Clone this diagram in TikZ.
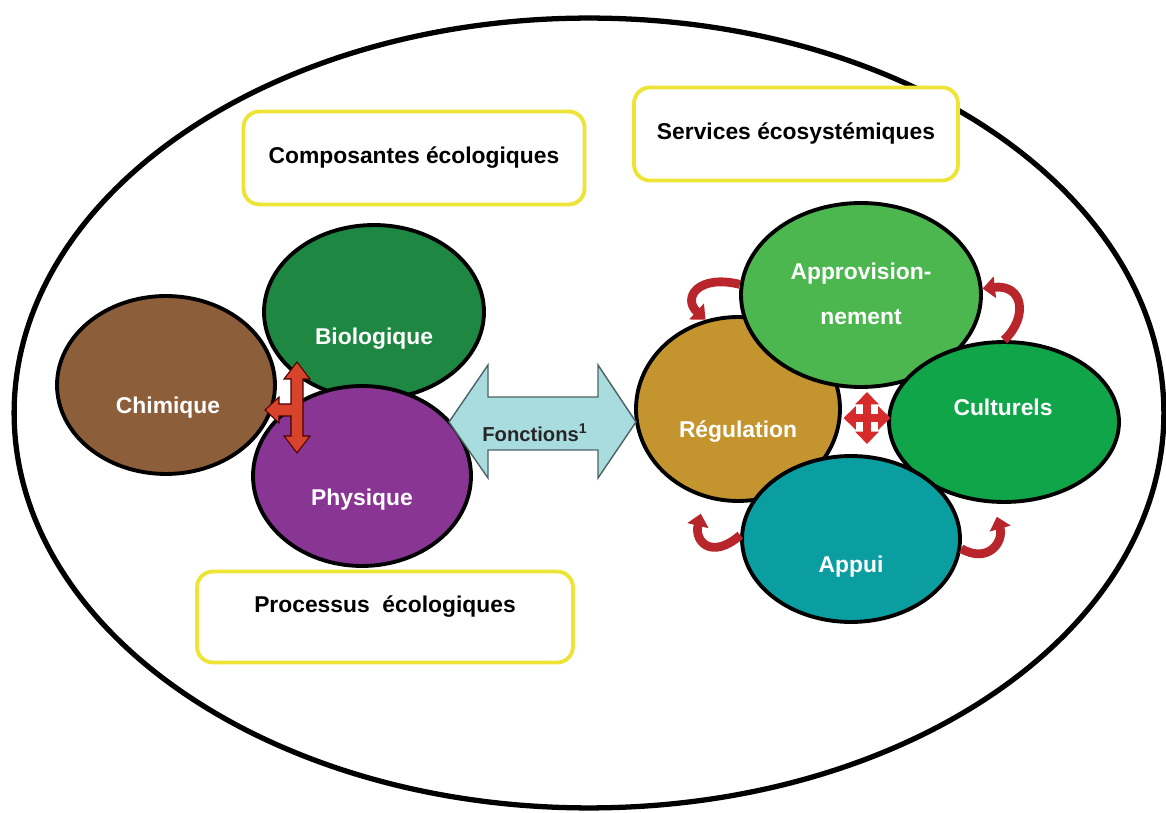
\documentclass[tikz,border=0pt]{standalone}
\usepackage{fontspec}
\setmainfont{Liberation Sans}
\usetikzlibrary{shapes.geometric,arrows.meta}

\definecolor{jaune}{HTML}{EDE437}
\definecolor{brun}{HTML}{8C5E3A}
\definecolor{vertfonce}{HTML}{1E8741}
\definecolor{violet}{HTML}{893594}
\definecolor{ocre}{HTML}{C4952F}
\definecolor{vertclair}{HTML}{4DB74F}
\definecolor{vertmoyen}{HTML}{11A54A}
\definecolor{turquoise}{HTML}{0B9EA1}
\definecolor{bleupale}{HTML}{A9DCDF}
\definecolor{rougeT}{HTML}{D8432B}
\definecolor{rougecroix}{HTML}{D52B2B}
\definecolor{rougefonce}{HTML}{B8252A}

\begin{document}
\begin{tikzpicture}[x=0.02cm,y=-0.02cm]
 % style des noeuds
  \tikzstyle{bulle}=[ellipse,draw=black,line width=2.2pt,inner sep=0pt]
  \tikzstyle{cadre}=[rectangle,draw=jaune,line width=2.2pt,rounded corners=9pt,fill=white,font=\fontsize{13}{15}\selectfont\bfseries]
  \tikzstyle{blanc}=[text=white,font=\fontsize{13}{15}\selectfont\bfseries,align=center]
 % style des fleches
  \tikzstyle{boucle}=[-{Triangle[width=12pt,length=7pt]},line width=5pt,draw=rougefonce]
  \tikzstyle{croix}=[{Triangle[width=13pt,length=7pt]}-{Triangle[width=13pt,length=7pt]},line width=5pt,draw=rougecroix]
  \tikzstyle{bloc}=[draw=black!70!red,line width=0.6pt,line join=miter]
  \useasboundingbox (0,0) rectangle (1166,813);
 % grand ellipse
  \node[bulle,line width=3pt,minimum width=23cm,minimum height=15.8cm] (ecosysteme) at (589,413) {};
 % cadres jaunes
  \node[cadre,minimum width=6.82cm,minimum height=1.86cm] (composantes) at (414,158) {Composantes écologiques};
  \node[cadre,minimum width=6.48cm,minimum height=1.86cm] (services) at (796,134) {Services écosystémiques};
  \node[cadre,minimum width=7.52cm,minimum height=1.82cm] (processus) at (385,617) {};
  \node[font=\fontsize{13}{15}\selectfont\bfseries] (tprocessus) at (385,607) {Processus\ \ écologiques};
 % composantes
  \node[bulle,fill=vertfonce,minimum width=4.4cm,minimum height=3.48cm] (biologique) at (374,312) {};
  \node[bulle,fill=violet,minimum width=4.36cm,minimum height=3.6cm] (physique) at (362,476) {};
  \node[bulle,fill=brun,minimum width=4.36cm,minimum height=3.56cm] (chimique) at (166,385) {};
  \node[blanc] (tbiologique) at (374,339) {Biologique};
  \node[blanc] (tphysique) at (362,500) {Physique};
  \node[blanc] (tchimique) at (168,408) {Chimique};
 % services
  \node[bulle,fill=ocre,minimum width=4.08cm,minimum height=3.68cm] (regulation) at (738,409) {};
  \node[bulle,fill=vertclair,minimum width=4.8cm,minimum height=3.68cm] (approv) at (861,295) {};
  \node[bulle,fill=vertmoyen,minimum width=4.6cm,minimum height=3.2cm] (culturels) at (1004,422) {};
  \node[bulle,fill=turquoise,minimum width=4.36cm,minimum height=3.32cm] (appui) at (851,539) {};
  \node[blanc] (tregulation) at (738,432) {Régulation};
  \node[blanc] (tapprov) at (861,294) {Approvision-\\[11pt]nement};
  \node[blanc] (tculturels) at (1003,407) {Culturels};
  \node[blanc] (tappui) at (851,567) {Appui};
 % fleche fonctions
  \draw[fill=bleupale,draw=black!55!bleupale,line width=0.8pt,line join=miter]
    (449,422) -- (488,365) -- (488,397) -- (598,397) -- (598,365) -- (636,422)
    -- (598,478) -- (598,450) -- (488,450) -- (488,478) -- cycle;
  \node[font=\fontsize{11.5}{14}\selectfont\bfseries,text=black!85] (fonctions) at (535,433) {Fonctions\textsuperscript{1}};
 % fleche en T
  \draw[bloc,fill=rougeT] (297,362) -- (310,379) -- (303,379) -- (303,436) -- (310,436)
    -- (297,453) -- (284,436) -- (291,436) -- (291,416) -- (279,416) -- (279,423)
    -- (265,410) -- (279,397) -- (279,404) -- (291,404) -- (291,379) -- (284,379) -- cycle;
 % croix
  \coordinate (centrecroix) at (867,418);
  \draw[croix] ([yshift=0.52cm]centrecroix) -- ([yshift=-0.52cm]centrecroix);
  \draw[croix] ([xshift=-0.47cm]centrecroix) -- ([xshift=0.47cm]centrecroix);
 % fleches courbes
  \draw[boucle] (approv.175) .. controls (698,274) and (682,298) .. (regulation.110);
  \draw[boucle] (culturels.90) .. controls (1028,318) and (1024,284) .. (approv.3);
  \draw[boucle] (appui.178) .. controls (712,560) and (694,542) .. ([yshift=-0.34cm]regulation.247);
  \draw[boucle] (appui.355) .. controls (988,564) and (1004,542) .. ([yshift=-0.26cm]culturels.265);
\end{tikzpicture}
\end{document}
